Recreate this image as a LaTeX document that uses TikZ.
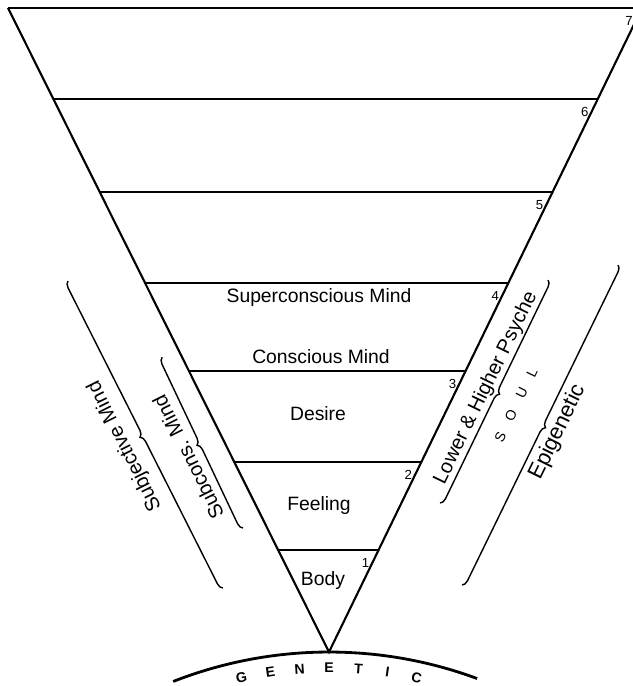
\documentclass[tikz,border=0pt]{standalone}
\usepackage{fontspec}
\setmainfont{Liberation Sans}
\usetikzlibrary{calc, decorations.pathreplacing}

\begin{document}
\begin{tikzpicture}[x=0.02cm, y=-0.02cm,
  level/.style={line width=1.2pt},
  levelnum/.style={font=\fontsize{7.5}{8}\selectfont, inner sep=0pt},
  plane/.style={font=\fontsize{11}{13}\selectfont, inner sep=0pt, anchor=base},
  bracket/.style={decorate, decoration={brace, amplitude=3.5pt}, line width=0.8pt},
  sidetext/.style={font=\fontsize{11.5}{13}\selectfont, inner sep=0pt},
  genletter/.style={font=\fontsize{8}{9}\selectfont\bfseries, inner sep=0pt},
]
\useasboundingbox (0,0) rectangle (632,686);
\coordinate (apex) at (329,652);
\coordinate (tl) at (8,8);
\coordinate (tr) at (642,8);
\coordinate (gc) at (329,1079);

% cone and the seven planes
\draw[level, line join=miter] (tl) -- (apex) -- (tr);
\foreach \y/\n in {550/1,462/2,371/3,283/4,192/5,99/6,8/7}{
  \pgfmathsetmacro{\xl}{329-0.4984*(652-\y)}
  \pgfmathsetmacro{\xr}{329+0.486*(652-\y)}
  \draw[level] (\xl,\y) -- (\xr,\y);
  \node[levelnum] (num\n) at (\xr-13,\y+13) {\n};
}

\node[plane] (super) at (319,302) {Superconscious Mind};
\node[plane] (consc) at (321,363) {Conscious Mind};
\node[plane] (desire) at (318,420) {Desire};
\node[plane] (feel) at (319,510) {Feeling};
\node[plane] (body) at (323,585) {Body};

% braces on the left
\draw[bracket] (223,588) -- (68,281);
\node[sidetext, rotate=116.5] (subj) at (125,446) {Subjective Mind};
\draw[bracket] (243,528) -- (162,357);
\node[sidetext, rotate=116.5] (subc) at (188,457) {Subcons. Mind};

% braces on the right
\draw[bracket] (548,280) -- (440,503);
\node[sidetext, rotate=64] (psyche) at (486,388) {Lower \& Higher Psyche};
\node[font=\fontsize{8}{9}\selectfont, inner sep=0pt, rotate=64] (soul) at (516,405) {S\hspace{8pt}O\hspace{8pt}U\hspace{8pt}L};
\draw[bracket] (618,265) -- (462,585);
\node[sidetext, font=\fontsize{12.5}{14}\selectfont, rotate=64] (epi) at (558,432) {Epigenetic};

% genetic base
\draw[line width=1.6pt] ($(gc)+(-111.4:427)$) arc[start angle=-111.4, end angle=-69.7, radius=427];
\foreach \ch [count=\i] in {G,E,N,E,T,I,C}{
  \pgfmathsetmacro{\ang}{-12.3+4.1*(\i-1)}
  \node[genletter, rotate=-\ang] (gen\i) at ($(gc)+(\ang-90:411)$) {\ch};
}
\end{tikzpicture}
\end{document}
